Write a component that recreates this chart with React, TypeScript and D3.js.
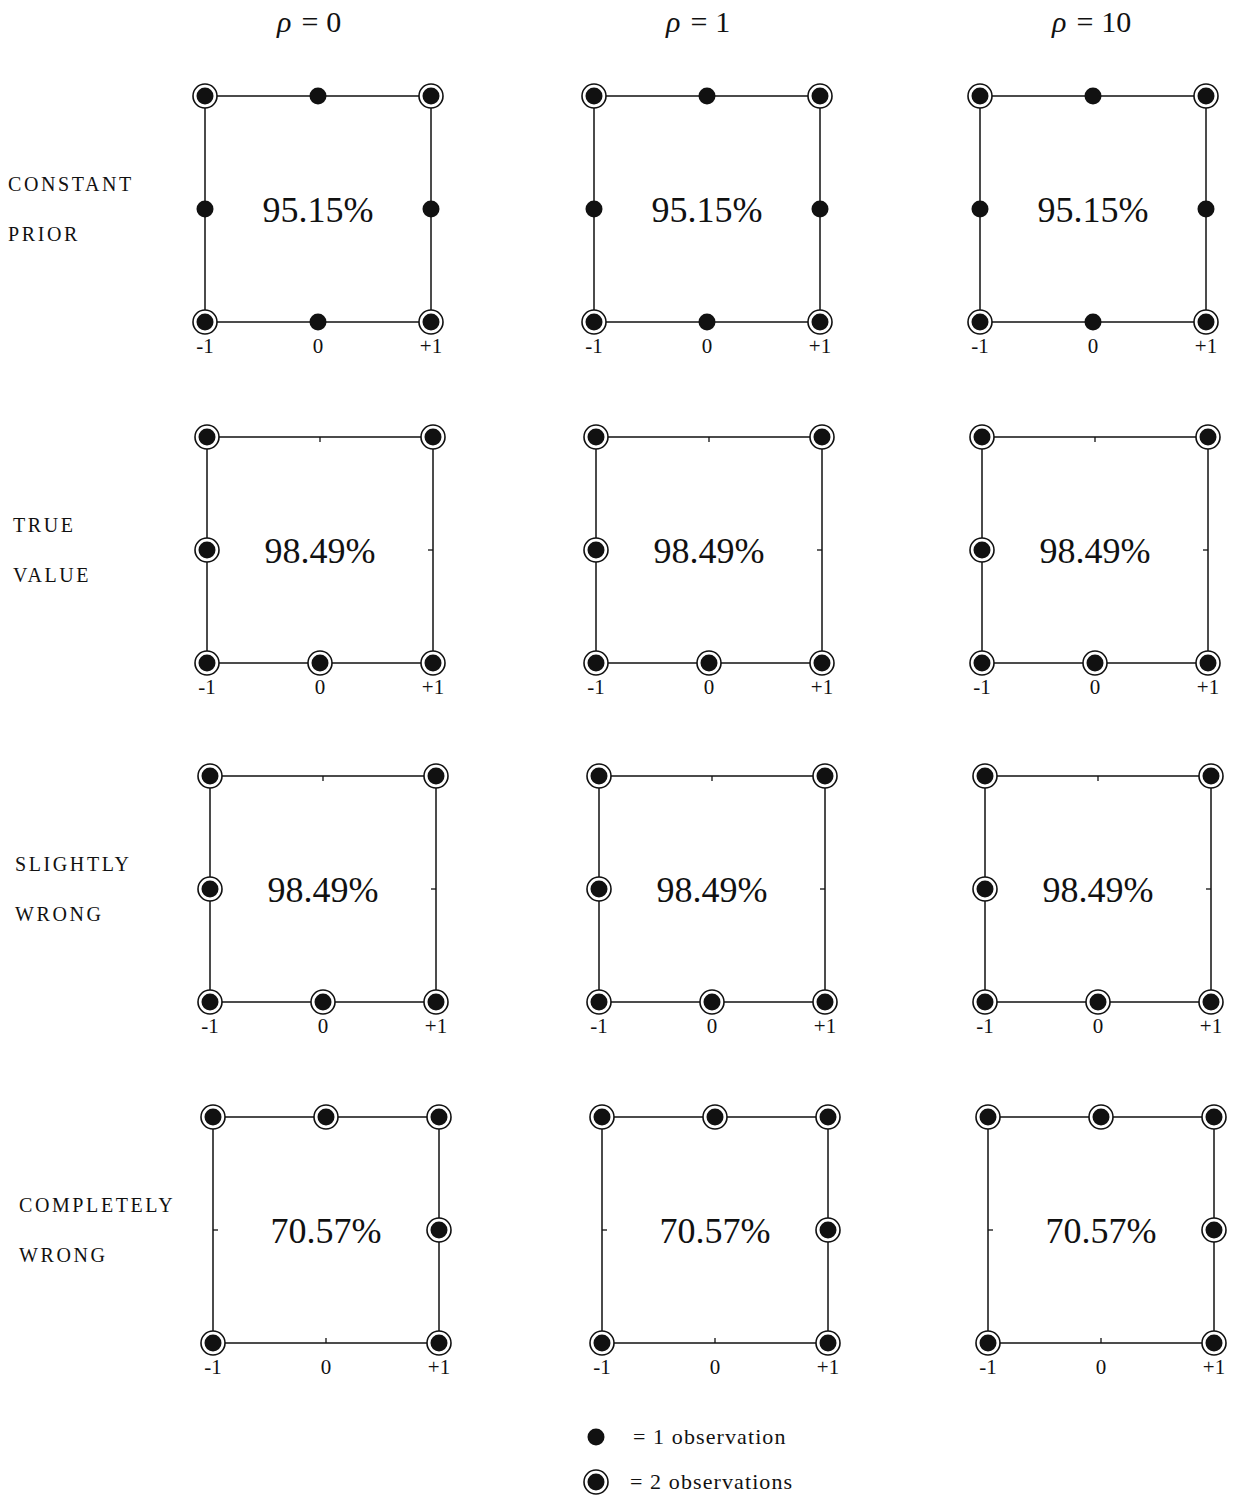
import * as d3 from "d3";

// column headers (rho values)
const rhoValues = ["0", "1", "10"];

// row labels, two lines each
const rowLabels = [
  ["CONSTANT", "PRIOR"],
  ["TRUE", "VALUE"],
  ["SLIGHTLY", "WRONG"],
  ["COMPLETELY", "WRONG"],
];

// coverage shown in the middle of each square (same for every rho)
const coverage = ["95.15%", "98.49%", "98.49%", "70.57%"];

// grid positions on both axes
const gridValues = [-1, 0, 1];
const tickLabels = ["-1", "0", "+1"];

// number of observations at each grid point, rows go from y=+1 down to y=-1
const constantPrior = [
  [2, 1, 2],
  [1, 0, 1],
  [2, 1, 2],
];
const trueValue = [
  [2, 0, 2],
  [2, 0, 0],
  [2, 2, 2],
];
const slightlyWrong = [
  [2, 0, 2],
  [2, 0, 0],
  [2, 2, 2],
];
const completelyWrong = [
  [2, 2, 2],
  [0, 0, 2],
  [2, 0, 2],
];
const observations = [constantPrior, trueValue, slightlyWrong, completelyWrong];

const W = 1237;
const H = 1497;
const side = 226;
const colLeft = [205, 594, 980];
const rowTop = [96, 437, 776, 1117];
const rowShift = [0, 2, 5, 8]; // scan drifts a little to the right
const labelX = [8, 13, 15, 19];
const font = "'Liberation Serif', 'DejaVu Serif', serif";
const ink = "#111";

function Panel({ row, col }: { row: number; col: number }) {
  const left = colLeft[col] + rowShift[row];
  const top = rowTop[row];
  const x = d3.scaleLinear().domain([-1, 1]).range([left, left + side]);
  const y = d3.scaleLinear().domain([-1, 1]).range([top + side, top]);
  const counts = observations[row];

  const pts: { gx: number; gy: number; n: number }[] = [];
  counts.forEach((r, i) =>
    r.forEach((n, j) => pts.push({ gx: gridValues[j], gy: gridValues[2 - i], n }))
  );

  // little inward tick on empty edge midpoints
  const ticks = pts.filter(
    (p) => p.n === 0 && (Math.abs(p.gx) === 1 || Math.abs(p.gy) === 1)
  );

  return (
    <g>
      <rect
        x={x(-1)}
        y={y(1)}
        width={x(1) - x(-1)}
        height={y(-1) - y(1)}
        fill="none"
        stroke={ink}
        strokeWidth={1.5}
      />
      {ticks.map((p, k) => {
        const px = x(p.gx);
        const py = y(p.gy);
        const dx = p.gx === 0 ? 0 : -p.gx * 5;
        const dy = p.gx === 0 ? p.gy * 5 : 0;
        return (
          <line key={"t" + k} x1={px} y1={py} x2={px + dx} y2={py + dy} stroke={ink} strokeWidth={1.3} />
        );
      })}
      {pts
        .filter((p) => p.n > 0)
        .map((p, k) => (
          <g key={"p" + k}>
            {p.n === 2 && (
              <circle cx={x(p.gx)} cy={y(p.gy)} r={12} fill="#fff" stroke={ink} strokeWidth={1.6} />
            )}
            <circle cx={x(p.gx)} cy={y(p.gy)} r={8.5} fill={ink} />
          </g>
        ))}
      <text
        x={x(0)}
        y={y(0) + 13}
        textAnchor="middle"
        fontFamily={font}
        fontSize={36}
        fill={ink}
      >
        {coverage[row]}
      </text>
      {gridValues.map((g, k) => (
        <text
          key={"l" + k}
          x={x(g)}
          y={y(-1) + 31}
          textAnchor="middle"
          fontFamily={font}
          fontSize={21}
          fill={ink}
        >
          {tickLabels[k]}
        </text>
      ))}
    </g>
  );
}

export default function App() {
  return (
    <svg
      width={W}
      height={H}
      viewBox={`0 0 ${W} ${H}`}
      style={{ position: "absolute", left: 0, top: 0, background: "#fff" }}
    >
      <rect width={W} height={H} fill="#fff" />
      {rhoValues.map((r, c) => (
        <text
          key={"h" + c}
          x={colLeft[c] + 72}
          y={32}
          fontFamily={font}
          fontSize={30}
          fill={ink}
        >
          <tspan fontStyle="italic">ρ</tspan>
          <tspan dx={10}>=</tspan>
          <tspan dx={8}>{r}</tspan>
        </text>
      ))}
      {rowLabels.map((lines, r) =>
        lines.map((t, i) => (
          <text
            key={"r" + r + i}
            x={labelX[r]}
            y={rowTop[r] + 95 + i * 50}
            fontFamily={font}
            fontSize={20}
            letterSpacing={2.6}
            fill={ink}
          >
            {t}
          </text>
        ))
      )}
      {rowLabels.map((_, r) =>
        rhoValues.map((__, c) => <Panel key={"p" + r + c} row={r} col={c} />)
      )}
      <g>
        <circle cx={596} cy={1437} r={8.5} fill={ink} />
        <text x={633} y={1444} fontFamily={font} fontSize={22} letterSpacing={1.1} fill={ink}>
          = 1 observation
        </text>
        <circle cx={596} cy={1482} r={12} fill="#fff" stroke={ink} strokeWidth={1.6} />
        <circle cx={596} cy={1482} r={8.5} fill={ink} />
        <text x={630} y={1489} fontFamily={font} fontSize={22} letterSpacing={1.1} fill={ink}>
          = 2 observations
        </text>
      </g>
    </svg>
  );
}
